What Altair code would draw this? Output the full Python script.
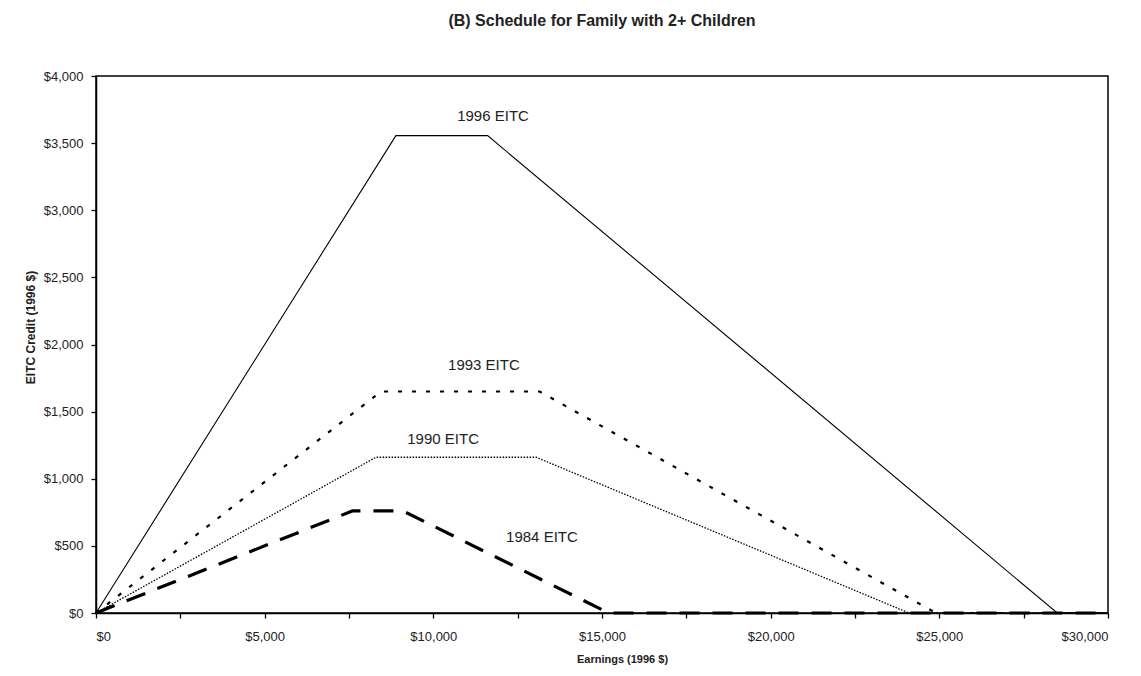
import altair as alt
import pandas as pd

# ---- data (1996 dollars) ----
earn_1996 = [0, 8890, 11610, 28495, 30000]
cred_1996 = [0, 3556, 3556, 0, 0]
earn_1993 = [0, 8450, 13150, 24900, 30000]
cred_1993 = [0, 1650, 1650, 0, 0]
earn_1990 = [0, 8300, 13050, 24100, 30000]
cred_1990 = [0, 1160, 1160, 0, 0]
earn_1984 = [0, 7600, 9100, 15200, 30000]
cred_1984 = [0, 760, 760, 0, 0]

label_text = ["1996 EITC", "1993 EITC", "1990 EITC", "1984 EITC"]
label_earn = [11770, 11500, 10290, 13220]
label_cred = [3702, 1847, 1296, 566]

x_ticks = list(range(0, 30001, 2500))
y_ticks = list(range(0, 4001, 500))

series = {
    "1996": (earn_1996, cred_1996),
    "1993": (earn_1993, cred_1993),
    "1990": (earn_1990, cred_1990),
    "1984": (earn_1984, cred_1984),
}
styles = {
    "1996": dict(strokeWidth=1.1),
    "1993": dict(strokeWidth=2.2, strokeDash=[4, 10]),
    "1990": dict(strokeWidth=1.3, strokeDash=[1.5, 1.5]),
    "1984": dict(strokeWidth=3.2, strokeDash=[20, 13]),
}

rows = []
for yr, (es, cs) in series.items():
    for e, c in zip(es, cs):
        rows.append({"year": yr, "earnings": e, "credit": c})
df = pd.DataFrame(rows)
labels = pd.DataFrame({"text": label_text, "earnings": label_earn, "credit": label_cred})

FONT = "Liberation Sans"

x_enc = alt.X(
    "earnings:Q",
    scale=alt.Scale(domain=[0, 30000], nice=False, zero=True),
    axis=alt.Axis(
        values=x_ticks,
        labelExpr="datum.value % 5000 == 0 ? format(datum.value, '$,.0f') : ''",
        title="Earnings (1996 $)",
        grid=False,
        tickSize=5,
        labelPadding=12,
        titlePadding=10,
        titleX=526,
    ),
)
y_enc = alt.Y(
    "credit:Q",
    scale=alt.Scale(domain=[0, 4000], nice=False),
    axis=alt.Axis(
        values=y_ticks,
        format="$,.0f",
        title="EITC Credit (1996 $)",
        grid=False,
        tickSize=5,
        labelPadding=8,
        titlePadding=6,
        titleFontSize=12,
        titleY=251,
    ),
)

layers = []
for yr in series:
    layers.append(
        alt.Chart(df)
        .transform_filter(alt.datum.year == yr)
        .mark_line(color="black", strokeCap="butt", **styles[yr])
        .encode(x=x_enc, y=y_enc, order="earnings:Q")
    )

text_layer = alt.Chart(labels).mark_text(
    font=FONT, fontSize=15, color="#222", align="center", baseline="middle"
).encode(x="earnings:Q", y="credit:Q", text="text:N")

chart = (
    alt.layer(*layers, text_layer)
    .properties(
        width=1012,
        height=537,
        title=alt.TitleParams(
            "(B)  Schedule for Family with 2+ Children",
            font=FONT,
            fontSize=16,
            fontWeight="bold",
            color="#222",
            anchor="middle",
            offset=41,
        ),
        autosize=alt.AutoSizeParams(type="none"),
        padding={"left": 88, "top": 68, "right": 25, "bottom": 55},
    )
    .configure_view(stroke="black", strokeWidth=1.5)
    .configure_axis(
        labelFont=FONT,
        labelFontSize=13,
        labelColor="#222",
        titleFont=FONT,
        titleFontSize=11,
        titleFontWeight="bold",
        titleColor="#222",
        domainColor="black",
        domainWidth=1.5,
        tickColor="black",
        tickWidth=1.3,
    )
)

chart.save("out.html", embed_options={"renderer": "svg", "actions": False})
